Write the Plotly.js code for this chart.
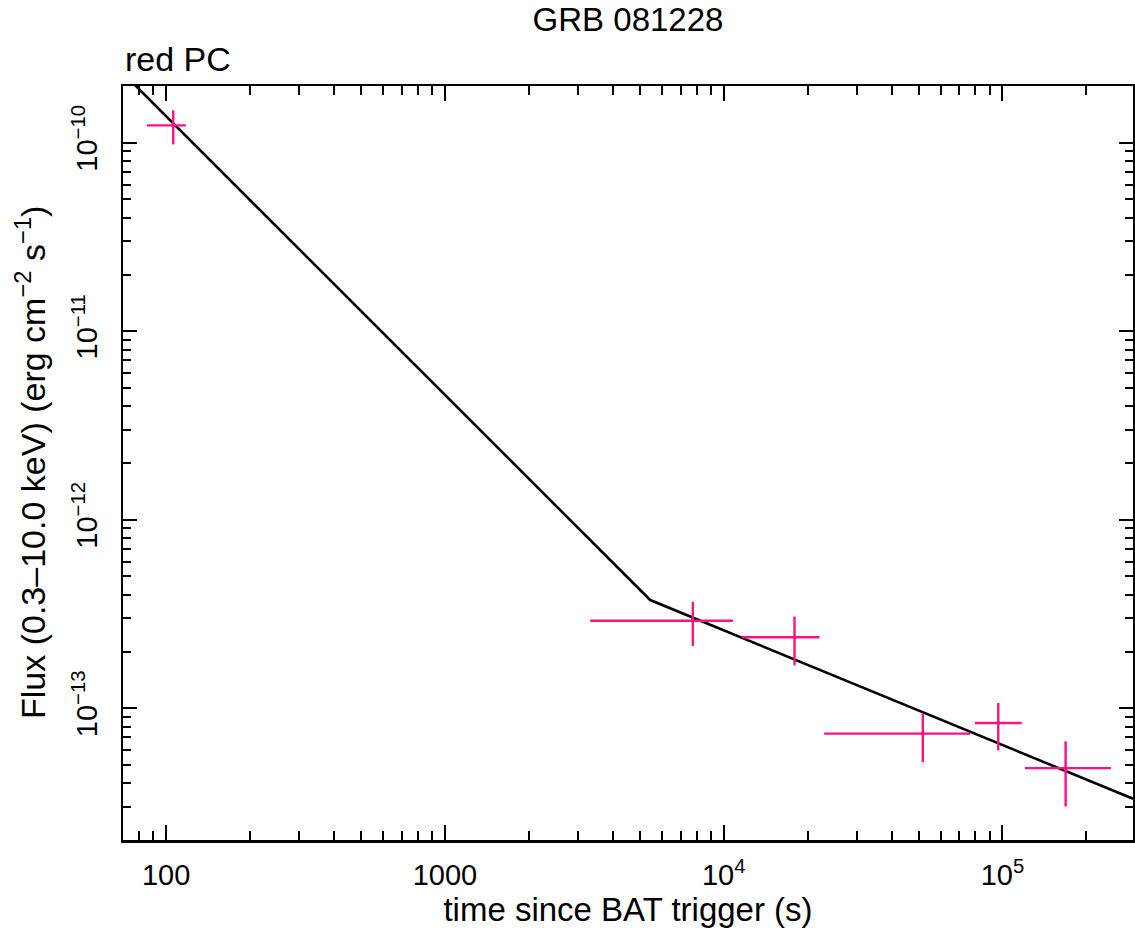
<!DOCTYPE html>
<html>
<head>
<meta charset="utf-8">
<script src="https://cdn.plot.ly/plotly-3.0.1.min.js"></script>
<style>html,body{margin:0;padding:0;background:#fff;}#chart{width:1135px;height:930px;}</style>
</head>
<body>
<div id="chart"></div>
<script>
// Data points (time since trigger, flux) with bin bounds / error bounds
var time   = [106, 7750, 17950, 51800, 96600, 168500];
var timeLo = [85.3, 3320, 11620, 22930, 79670, 120400];
var timeHi = [117.7, 10790, 22060, 76560, 117200, 244900];
var flux   = [1.236e-10, 2.91e-13, 2.38e-13, 7.33e-14, 8.35e-14, 4.81e-14];
var fluxLo = [9.8e-11, 2.14e-13, 1.69e-13, 5.18e-14, 5.98e-14, 3.01e-14];
var fluxHi = [1.486e-10, 3.67e-13, 3.06e-13, 9.37e-14, 1.067e-13, 6.68e-14];

// Broken power-law model (start, break, end)
var modelT = [70, 5450, 294000];
var modelF = [2.34e-10, 3.75e-13, 3.31e-14];

// Tick labels
var xMajor = [100, 1000, 1e4, 1e5];
var xMajorText = ['100', '1000', '10<sup>4</sup>', '10<sup>5</sup>'];
var yMajor = [1e-13, 1e-12, 1e-11, 1e-10];
var yMajorText = ['10<sup>\u221213</sup>', '10<sup>\u221212</sup>', '10<sup>\u221211</sup>', '10<sup>\u221210</sup>'];

var xMinor = [];
[10, 100, 1000, 1e4, 1e5].forEach(function(d){ for (var k=2;k<=9;k++) xMinor.push(k*d); });
var yMinor = [];
[1e-14, 1e-13, 1e-12, 1e-11, 1e-10].forEach(function(d){ for (var k=2;k<=9;k++) yMinor.push(k*d); });

var pink = '#ff1088';
var FONT = 'Liberation Sans, Arial, Helvetica, sans-serif';

var errXplus = time.map(function(t,i){ return timeHi[i]-t; });
var errXminus = time.map(function(t,i){ return t-timeLo[i]; });
var errYplus = flux.map(function(f,i){ return fluxHi[i]-f; });
var errYminus = flux.map(function(f,i){ return f-fluxLo[i]; });

var traces = [
  {
    x: modelT, y: modelF, type: 'scatter', mode: 'lines',
    line: {color: '#000', width: 2.6}, hoverinfo: 'skip', showlegend: false
  },
  {
    x: time, y: flux, type: 'scatter', mode: 'markers',
    marker: {color: pink, size: 4},
    error_x: {type: 'data', symmetric: false, array: errXplus, arrayminus: errXminus, color: pink, thickness: 2.4, width: 0},
    error_y: {type: 'data', symmetric: false, array: errYplus, arrayminus: errYminus, color: pink, thickness: 2.4, width: 0},
    showlegend: false
  }
];

var layout = {
  width: 1135, height: 930,
  margin: {l: 123, r: 2, t: 86, b: 90},
  paper_bgcolor: '#fff', plot_bgcolor: '#fff',
  font: {family: FONT, color: '#000', size: 29},
  showlegend: false,
  title: {
    text: 'GRB 081228', font: {family: FONT, size: 33, color: '#000'},
    x: 0.5, xref: 'paper', y: 1 - 19.5/930, yref: 'container', yanchor: 'middle'
  },
  xaxis: {
    type: 'log', range: [Math.log10(70), Math.log10(294000)],
    tickmode: 'array', tickvals: xMajor, ticktext: xMajorText,
    ticks: 'inside', ticklen: 15, tickwidth: 2, tickcolor: '#000',
    minor: {tickmode: 'array', tickvals: xMinor, ticks: 'inside', ticklen: 9, tickwidth: 2, tickcolor: '#000', showgrid: false},
    showline: true, linewidth: 2.5, linecolor: '#000', mirror: 'allticks',
    showgrid: false, zeroline: false,
    tickfont: {family: FONT, size: 29, color: '#000'},
    ticklabelstandoff: 8,
    title: {text: 'time since BAT trigger (s)', font: {family: FONT, size: 33, color: '#000'}, standoff: 7}
  },
  yaxis: {
    type: 'log', range: [Math.log10(2e-14), Math.log10(2e-10)],
    tickmode: 'array', tickvals: yMajor, ticktext: yMajorText,
    ticks: 'inside', ticklen: 14, tickwidth: 2, tickcolor: '#000',
    minor: {tickmode: 'array', tickvals: yMinor, ticks: 'inside', ticklen: 8, tickwidth: 2, tickcolor: '#000', showgrid: false},
    showline: true, linewidth: 2.5, linecolor: '#000', mirror: 'allticks',
    showgrid: false, zeroline: false,
    tickangle: -90,
    tickfont: {family: FONT, size: 29, color: '#000'},
    ticklabelstandoff: 12
  },
  annotations: [
    {text: 'red PC', xref: 'paper', yref: 'paper', x: 0, y: 1 + 27/754, xanchor: 'left', yanchor: 'middle',
     showarrow: false, font: {family: FONT, size: 34, color: '#000'}},
    {text: 'Flux (0.3\u201310.0 keV) (erg cm<sup>\u22122</sup> s<sup>\u22121</sup>)', xref: 'paper', yref: 'paper',
     x: (30 - 123) / 1010, y: 0.5, xanchor: 'center', yanchor: 'middle', textangle: -90,
     showarrow: false, font: {family: FONT, size: 34, color: '#000'}}
  ]
};

Plotly.newPlot('chart', traces, layout, {displayModeBar: false, staticPlot: true});
</script>
</body>
</html>
